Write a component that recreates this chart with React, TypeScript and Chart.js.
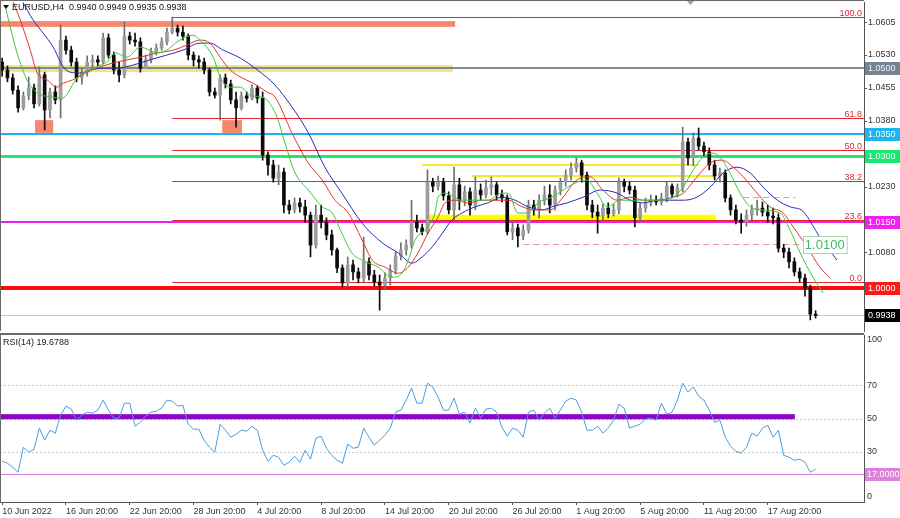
import React, { useEffect, useRef } from 'react';
import { Chart, registerables } from 'chart.js';

Chart.register(...registerables);

const FONT = '"Liberation Sans", Arial, sans-serif';

// ---------------- data ----------------
const symbolHeader = 'EURUSD,H4  0.9940 0.9949 0.9935 0.9938';
const rsiHeader = 'RSI(14) 19.6788';

const xTickIndex = [0, 12, 24, 36, 48, 60, 72, 84, 96, 108, 120, 132, 144];
const xTickLabels = ['10 Jun 2022', '16 Jun 20:00', '22 Jun 20:00', '28 Jun 20:00', '4 Jul 20:00', '8 Jul 20:00', '14 Jul 20:00', '20 Jul 20:00', '26 Jul 20:00', '1 Aug 20:00', '5 Aug 20:00', '11 Aug 20:00', '17 Aug 20:00'];
const priceTickValues = [0.9930, 1.0005, 1.0080, 1.0155, 1.0230, 1.0305, 1.0380, 1.0455, 1.0530, 1.0605];
const rsiTickValues = [100, 70, 50, 30, 0];

const opens = [
  1.0514, 1.0496, 1.0478, 1.0450, 1.0410, 1.0437, 1.0455, 1.0419, 1.0485, 1.0405,
  1.0446, 1.0428, 1.0564, 1.0541, 1.0514, 1.0478, 1.0491, 1.0514, 1.0519, 1.0514,
  1.0569, 1.0530, 1.0496, 1.0485, 1.0573, 1.0564, 1.0560, 1.0500, 1.0519, 1.0537,
  1.0546, 1.0560, 1.0582, 1.0591, 1.0582, 1.0573, 1.0530, 1.0519, 1.0514, 1.0496,
  1.0446, 1.0439, 1.0478, 1.0464, 1.0428, 1.0410, 1.0437, 1.0432, 1.0455, 1.0432,
  1.0303, 1.0280, 1.0250, 1.0264, 1.0189, 1.0178, 1.0194, 1.0185, 1.0166, 1.0098,
  1.0166, 1.0150, 1.0121, 1.0087, 1.0046, 1.0012, 1.0053, 1.0037, 1.0023, 1.0060,
  1.0030, 1.0014, 1.0007, 1.0023, 1.0041, 1.0073, 1.0087, 1.0098, 1.0150, 1.0137,
  1.0128, 1.0241, 1.0232, 1.0241, 1.0210, 1.0178, 1.0235, 1.0200, 1.0219, 1.0189,
  1.0223, 1.0212, 1.0228, 1.0235, 1.0212, 1.0205, 1.0128, 1.0137, 1.0119, 1.0132,
  1.0189, 1.0178, 1.0200, 1.0212, 1.0189, 1.0223, 1.0241, 1.0257, 1.0273, 1.0285,
  1.0257, 1.0189, 1.0173, 1.0164, 1.0182, 1.0169, 1.0178, 1.0241, 1.0232, 1.0223,
  1.0160, 1.0182, 1.0194, 1.0200, 1.0196, 1.0205, 1.0232, 1.0214, 1.0228, 1.0332,
  1.0296, 1.0341, 1.0323, 1.0310, 1.0280, 1.0255, 1.0262, 1.0205, 1.0178, 1.0155,
  1.0150, 1.0166, 1.0178, 1.0182, 1.0173, 1.0164, 1.0160, 1.0091, 1.0082, 1.0060,
  1.0037, 1.0023, 1.0000, 0.9941,
];
const highs = [
  1.0523, 1.0505, 1.0487, 1.0460, 1.0446, 1.0480, 1.0464, 1.0503, 1.0491, 1.0455,
  1.0460, 1.0598, 1.0573, 1.0550, 1.0523, 1.0500, 1.0528, 1.0530, 1.0528, 1.0580,
  1.0578, 1.0537, 1.0514, 1.0605, 1.0582, 1.0580, 1.0569, 1.0530, 1.0546, 1.0555,
  1.0569, 1.0591, 1.0616, 1.0598, 1.0596, 1.0578, 1.0537, 1.0528, 1.0523, 1.0500,
  1.0455, 1.0485, 1.0487, 1.0473, 1.0446, 1.0446, 1.0446, 1.0462, 1.0460, 1.0446,
  1.0310, 1.0291, 1.0280, 1.0273, 1.0200, 1.0205, 1.0205, 1.0200, 1.0173, 1.0189,
  1.0189, 1.0160, 1.0132, 1.0091, 1.0053, 1.0071, 1.0064, 1.0046, 1.0116, 1.0069,
  1.0041, 1.0030, 1.0035, 1.0053, 1.0082, 1.0103, 1.0110, 1.0200, 1.0166, 1.0146,
  1.0269, 1.0250, 1.0255, 1.0250, 1.0219, 1.0275, 1.0250, 1.0232, 1.0228, 1.0253,
  1.0237, 1.0246, 1.0253, 1.0241, 1.0223, 1.0212, 1.0150, 1.0146, 1.0144, 1.0200,
  1.0200, 1.0212, 1.0232, 1.0235, 1.0232, 1.0250, 1.0269, 1.0285, 1.0296, 1.0291,
  1.0264, 1.0200, 1.0189, 1.0191, 1.0194, 1.0191, 1.0250, 1.0248, 1.0241, 1.0232,
  1.0194, 1.0205, 1.0212, 1.0210, 1.0216, 1.0241, 1.0237, 1.0237, 1.0366, 1.0341,
  1.0353, 1.0364, 1.0332, 1.0319, 1.0291, 1.0273, 1.0269, 1.0212, 1.0189, 1.0169,
  1.0178, 1.0189, 1.0200, 1.0196, 1.0189, 1.0182, 1.0169, 1.0100, 1.0091, 1.0069,
  1.0046, 1.0032, 1.0007, 0.9949,
];
const lows = [
  1.0482, 1.0469, 1.0441, 1.0400, 1.0405, 1.0428, 1.0410, 1.0414, 1.0360, 1.0387,
  1.0419, 1.0387, 1.0532, 1.0505, 1.0469, 1.0464, 1.0482, 1.0500, 1.0505, 1.0510,
  1.0523, 1.0487, 1.0469, 1.0478, 1.0555, 1.0550, 1.0491, 1.0500, 1.0512, 1.0530,
  1.0541, 1.0553, 1.0578, 1.0573, 1.0564, 1.0519, 1.0505, 1.0500, 1.0487, 1.0437,
  1.0432, 1.0382, 1.0455, 1.0419, 1.0366, 1.0405, 1.0423, 1.0428, 1.0421, 1.0291,
  1.0257, 1.0241, 1.0235, 1.0171, 1.0169, 1.0171, 1.0173, 1.0150, 1.0071, 1.0091,
  1.0137, 1.0110, 1.0075, 1.0035, 1.0003, 1.0003, 1.0019, 1.0012, 1.0014, 1.0019,
  1.0005, 0.9950, 0.9996, 1.0007, 1.0032, 1.0064, 1.0075, 1.0091, 1.0128, 1.0121,
  1.0123, 1.0219, 1.0223, 1.0200, 1.0169, 1.0155, 1.0178, 1.0187, 1.0166, 1.0178,
  1.0200, 1.0205, 1.0212, 1.0200, 1.0196, 1.0121, 1.0110, 1.0094, 1.0110, 1.0125,
  1.0166, 1.0160, 1.0189, 1.0171, 1.0178, 1.0212, 1.0232, 1.0246, 1.0264, 1.0241,
  1.0178, 1.0160, 1.0125, 1.0155, 1.0160, 1.0164, 1.0169, 1.0219, 1.0214, 1.0139,
  1.0150, 1.0173, 1.0187, 1.0189, 1.0189, 1.0196, 1.0205, 1.0207, 1.0219, 1.0280,
  1.0278, 1.0314, 1.0300, 1.0269, 1.0246, 1.0241, 1.0196, 1.0166, 1.0146, 1.0125,
  1.0141, 1.0155, 1.0166, 1.0164, 1.0150, 1.0146, 1.0082, 1.0069, 1.0046, 1.0028,
  1.0014, 0.9982, 0.9928, 0.9932,
];
const closes = [
  1.0496, 1.0478, 1.0450, 1.0410, 1.0437, 1.0455, 1.0419, 1.0485, 1.0405, 1.0446,
  1.0428, 1.0564, 1.0541, 1.0514, 1.0478, 1.0491, 1.0514, 1.0519, 1.0514, 1.0569,
  1.0530, 1.0496, 1.0485, 1.0573, 1.0564, 1.0560, 1.0500, 1.0519, 1.0537, 1.0546,
  1.0560, 1.0582, 1.0591, 1.0582, 1.0573, 1.0530, 1.0519, 1.0514, 1.0496, 1.0446,
  1.0439, 1.0478, 1.0464, 1.0428, 1.0410, 1.0437, 1.0432, 1.0455, 1.0432, 1.0303,
  1.0280, 1.0250, 1.0264, 1.0189, 1.0178, 1.0194, 1.0185, 1.0166, 1.0098, 1.0166,
  1.0150, 1.0121, 1.0087, 1.0046, 1.0012, 1.0053, 1.0037, 1.0023, 1.0060, 1.0030,
  1.0014, 1.0007, 1.0023, 1.0041, 1.0073, 1.0087, 1.0098, 1.0150, 1.0137, 1.0128,
  1.0241, 1.0232, 1.0241, 1.0210, 1.0178, 1.0235, 1.0200, 1.0219, 1.0189, 1.0223,
  1.0212, 1.0228, 1.0235, 1.0212, 1.0205, 1.0128, 1.0137, 1.0119, 1.0132, 1.0189,
  1.0178, 1.0200, 1.0212, 1.0189, 1.0223, 1.0241, 1.0257, 1.0273, 1.0285, 1.0257,
  1.0189, 1.0173, 1.0164, 1.0182, 1.0169, 1.0178, 1.0241, 1.0232, 1.0223, 1.0160,
  1.0182, 1.0194, 1.0200, 1.0196, 1.0205, 1.0232, 1.0214, 1.0228, 1.0332, 1.0296,
  1.0341, 1.0323, 1.0310, 1.0280, 1.0255, 1.0262, 1.0205, 1.0178, 1.0155, 1.0150,
  1.0166, 1.0178, 1.0182, 1.0173, 1.0164, 1.0160, 1.0091, 1.0082, 1.0060, 1.0037,
  1.0023, 1.0000, 0.9941, 0.9938,
];

// Alligator lines (bar index, price)
const lipsIdx = [0.6, 2.8, 4.7, 6.6, 9.0, 11.3, 12.4, 13.4, 14.7, 16.6, 18.4, 19.7, 21.3, 23.5, 26, 29.2, 31, 32.9, 35.9, 37.2, 39.7, 41, 42.9, 44.8, 46.6, 48.5, 49.8, 51.7, 53.2, 55.1, 57.6, 60.2, 62.1, 63.9, 65.8, 67.7, 70.7, 73.3, 75.2, 76.4, 77.7, 80.1, 81.4, 82, 83.3, 86.5, 89, 91.4, 94, 95.2, 97, 98.9, 100.8, 103.4, 105.5, 108.1, 110, 111.9, 113.8, 116.2, 120, 123.8, 126.2, 128.1, 130, 131.8, 133.7, 135, 136.9, 138.8, 140.7, 142.6, 146.3, 148.2, 150.1, 152.5, 154.4];
const lipsVal = [1.0639, 1.0535, 1.0473, 1.0444, 1.0435, 1.0432, 1.0444, 1.0466, 1.0485, 1.0496, 1.0507, 1.0514, 1.0535, 1.0525, 1.0548, 1.0535, 1.0541, 1.0560, 1.0575, 1.0564, 1.0525, 1.0480, 1.0457, 1.0457, 1.0439, 1.0435, 1.0428, 1.0389, 1.0330, 1.0262, 1.0223, 1.0185, 1.0171, 1.0125, 1.0080, 1.0064, 1.0048, 1.0025, 1.0034, 1.0064, 1.0110, 1.0139, 1.0171, 1.0207, 1.0216, 1.0200, 1.0200, 1.0200, 1.0216, 1.0216, 1.0171, 1.0171, 1.0194, 1.0207, 1.0223, 1.0241, 1.0246, 1.0216, 1.0185, 1.0200, 1.0200, 1.0200, 1.0207, 1.0230, 1.0269, 1.0298, 1.0307, 1.0298, 1.0262, 1.0216, 1.0185, 1.0178, 1.0171, 1.0132, 1.0080, 1.0025, 0.9989];
const teethIdx = [2.1, 3.4, 5.3, 6.6, 8.5, 10.3, 11.5, 13.2, 16, 18.4, 20.9, 23.5, 26, 29.2, 32.2, 34.8, 37.2, 39.1, 41, 42.9, 44.8, 47.2, 49.8, 51.3, 54.5, 57.6, 60.2, 62.6, 65.1, 67.7, 69.6, 72, 74.5, 76.4, 78.2, 80.1, 82, 83.3, 85.2, 87.6, 90.3, 92.7, 95.2, 97.8, 100.2, 103.1, 105.5, 108.1, 110.6, 113, 115.7, 118.1, 120.6, 123.2, 125.6, 128.1, 130.7, 133.2, 135.4, 137.5, 139.4, 142, 144.4, 146.9, 148.8, 151.4, 153.8, 155.7];
const teethVal = [1.0650, 1.0610, 1.0541, 1.0489, 1.0473, 1.0457, 1.0466, 1.0473, 1.0491, 1.0503, 1.0512, 1.0519, 1.0525, 1.0535, 1.0541, 1.0553, 1.0564, 1.0557, 1.0525, 1.0496, 1.0480, 1.0466, 1.0446, 1.0435, 1.0353, 1.0284, 1.0246, 1.0200, 1.0171, 1.0110, 1.0064, 1.0048, 1.0034, 1.0048, 1.0080, 1.0125, 1.0162, 1.0194, 1.0200, 1.0194, 1.0200, 1.0200, 1.0200, 1.0185, 1.0178, 1.0178, 1.0207, 1.0246, 1.0253, 1.0223, 1.0200, 1.0207, 1.0200, 1.0200, 1.0205, 1.0216, 1.0253, 1.0285, 1.0291, 1.0275, 1.0253, 1.0216, 1.0185, 1.0171, 1.0139, 1.0094, 1.0048, 1.0023];
const jawIdx = [3.9, 5.8, 7.7, 9.6, 11.5, 12.8, 14.7, 16.6, 19, 21.6, 24.6, 27.8, 31, 34, 37.2, 39.1, 41.6, 44.8, 48, 51.3, 54.5, 57.6, 60.7, 63.9, 67.7, 71.5, 74.5, 77.1, 79, 80.9, 82.8, 84.6, 86.5, 89, 91.4, 94, 96.5, 98.9, 101.6, 103.4, 106.3, 109.3, 112.5, 115.7, 118.1, 120.6, 123.2, 125.6, 128.1, 130.7, 133.2, 135.6, 138.2, 140.7, 143.1, 145.8, 148.2, 150.6, 153.8, 157];
const jawVal = [1.0650, 1.0610, 1.0580, 1.0548, 1.0503, 1.0491, 1.0489, 1.0496, 1.0500, 1.0500, 1.0507, 1.0519, 1.0530, 1.0541, 1.0557, 1.0557, 1.0541, 1.0523, 1.0496, 1.0462, 1.0412, 1.0353, 1.0275, 1.0216, 1.0148, 1.0103, 1.0080, 1.0057, 1.0071, 1.0094, 1.0125, 1.0155, 1.0171, 1.0185, 1.0194, 1.0207, 1.0200, 1.0185, 1.0178, 1.0185, 1.0194, 1.0207, 1.0223, 1.0216, 1.0200, 1.0194, 1.0200, 1.0200, 1.0200, 1.0207, 1.0230, 1.0262, 1.0275, 1.0262, 1.0230, 1.0200, 1.0185, 1.0175, 1.0116, 1.0064];

const rsiValues = [
  24.4, 23.2, 20.8, 17.8, 32.8, 29.8, 31.6, 44.2, 37.0, 43.0,
  41.2, 52.0, 57.4, 55.6, 49.0, 52.0, 53.8, 53.2, 55.0, 61.0,
  55.0, 50.2, 50.2, 59.2, 59.2, 45.4, 47.8, 51.4, 53.8, 54.4,
  56.2, 61.0, 60.4, 57.4, 58.0, 46.6, 43.6, 43.6, 37.0, 32.8,
  29.8, 46.6, 43.0, 38.8, 40.6, 43.0, 42.4, 45.4, 43.0, 31.0,
  24.4, 28.0, 26.8, 22.0, 23.8, 27.4, 23.8, 31.0, 25.6, 38.2,
  39.4, 32.2, 28.0, 25.0, 23.2, 34.6, 32.2, 32.8, 44.2, 38.8,
  34.0, 37.0, 40.0, 44.2, 53.8, 55.0, 61.0, 68.2, 59.2, 59.2,
  71.2, 68.8, 62.8, 55.0, 55.0, 62.2, 52.6, 53.8, 47.2, 56.2,
  50.2, 55.6, 56.2, 53.8, 44.8, 39.4, 44.2, 43.0, 38.8, 53.8,
  55.0, 49.0, 53.2, 56.2, 50.2, 55.0, 60.4, 62.2, 61.0, 53.8,
  43.0, 43.0, 45.4, 41.2, 44.2, 49.0, 58.6, 56.2, 44.2, 45.4,
  46.6, 49.6, 50.2, 49.0, 59.2, 52.6, 53.8, 61.0, 71.2, 65.8,
  68.8, 63.4, 61.0, 55.0, 47.8, 49.0, 38.8, 33.4, 30.4, 29.2,
  32.8, 41.2, 39.4, 44.2, 46.0, 38.8, 43.0, 28.0, 26.8, 25.0,
  25.6, 23.8, 17.8, 19.7,
];

// chart objects (prices / bar index)
const fibHigh = 1.0616;
const fibLow = 1.0014;
const fibStartIndex = 32;
const fibRatios = [100.0, 61.8, 50.0, 38.2, 23.6, 0.0];
const levelPrices = [1.0500, 1.0350, 1.0300, 1.0150, 1.0000];
const bidPrice = 0.9938;
const tagPrices = [1.0500, 1.0350, 1.0300, 1.0150, 1.0000, 0.9938];
const zones = [
  { from: null, to: 85.2, low: 1.0594, high: 1.0607, kind: 'salmon' },
  { from: null, to: 84.8, low: 1.0491, high: 1.0507, kind: 'khaki' },
  { from: 6.2, to: 9.6, low: 1.0353, high: 1.0382, kind: 'salmon' },
  { from: 41.4, to: 45.1, low: 1.0353, high: 1.0382, kind: 'salmon' },
  { from: 79.6, to: 134.3, low: 1.0155, high: 1.0167, kind: 'yellow' },
];
const segments = [
  { from: 79, to: 131, price: 1.0280, kind: 'yellow' },
  { from: 88.4, to: 134, price: 1.0256, kind: 'yellow' },
  { from: 98, to: 150.6, price: 1.0100, kind: 'dash' },
  { from: 139.4, to: 149.2, price: 1.0207, kind: 'dash' },
];
const noteText = '1.0100';
const notePrice = 1.0100;
const noteIndex = 150.6;
const rsiBand = { to: 149.1, low: 49.4, high: 52.6 };
const rsiLevels = [70, 50, 30];
const rsiAlert = 17;

// ---------------- styles ----------------
const X_MIN = -0.4;
const X_MAX = 162.1;
const PRICE_MIN = 0.99027;
const PRICE_MAX = 1.06505;
const ZONE_COLOR: Record<string, string> = { salmon: '#f6866f', khaki: '#f1e38a', yellow: '#ffff00' };
const LEVEL_STYLE = [
  { color: '#7d8b99', width: 2 },
  { color: '#1cb3ef', width: 2 },
  { color: '#22e86c', width: 3 },
  { color: '#ea1eea', width: 2 },
  { color: '#ff0a0a', width: 4 },
];
const TAG_FILL = ['#738595', '#1cb5ee', '#19e870', '#f21ff2', '#ff1a1a', '#000000'];
const FIB_COLOR = '#e0262e';

function hline(ctx: any, x0: number, x1: number, y: number, color: string, w: number, dash: number[] = []) {
  ctx.beginPath();
  ctx.setLineDash(dash);
  ctx.strokeStyle = color;
  ctx.lineWidth = w;
  const yy = w % 2 === 1 ? Math.round(y) + 0.5 : Math.round(y);
  ctx.moveTo(x0, yy);
  ctx.lineTo(x1, yy);
  ctx.stroke();
  ctx.setLineDash([]);
}

const pricePlugin = {
  id: 'priceObjects',
  beforeDatasetsDraw(chart: any) {
    const { ctx, chartArea: a } = chart;
    const X = (i: number) => chart.scales.x.getPixelForValue(i);
    const Y = (p: number) => chart.scales.y.getPixelForValue(p);
    ctx.save();
    ctx.beginPath();
    ctx.rect(a.left, a.top, a.right - a.left, a.bottom - a.top);
    ctx.clip();
    zones.forEach((z) => {
      const x0 = z.from == null ? a.left : X(z.from);
      const x1 = z.to == null ? a.right : X(z.to);
      const y0 = Y(z.high);
      const y1 = Y(z.low);
      ctx.fillStyle = ZONE_COLOR[z.kind];
      ctx.fillRect(x0, y0, x1 - x0, y1 - y0);
    });
    segments.forEach((s) => {
      if (s.kind === 'yellow') hline(ctx, X(s.from), X(s.to), Y(s.price), '#f7ea2e', 2);
      else hline(ctx, X(s.from), X(s.to), Y(s.price), '#e59a9a', 1, [6, 4]);
    });
    const fx0 = X(fibStartIndex);
    fibRatios.forEach((r) => hline(ctx, fx0, a.right, Y(fibLow + ((fibHigh - fibLow) * r) / 100), FIB_COLOR, 1));
    levelPrices.forEach((p, k) => hline(ctx, a.left, a.right, Y(p), LEVEL_STYLE[k].color, LEVEL_STYLE[k].width));
    hline(ctx, a.left, a.right, Y(bidPrice), '#c4c4c4', 1);
    ctx.restore();
  },
  afterDraw(chart: any) {
    const { ctx, chartArea: a } = chart;
    const X = (i: number) => chart.scales.x.getPixelForValue(i);
    const Y = (p: number) => chart.scales.y.getPixelForValue(p);
    ctx.save();
    // price axis labels
    ctx.font = `9px ${FONT}`;
    ctx.textAlign = 'left';
    ctx.textBaseline = 'middle';
    ctx.fillStyle = '#333';
    priceTickValues.forEach((v) => ctx.fillText(v.toFixed(4), a.right + 4, Y(v)));
    // fib labels
    ctx.fillStyle = FIB_COLOR;
    ctx.textAlign = 'right';
    ctx.textBaseline = 'alphabetic';
    fibRatios.forEach((r) => {
      const y = Y(fibLow + ((fibHigh - fibLow) * r) / 100);
      ctx.fillText(r.toFixed(1), a.right - 2, Math.round(y) - 1);
    });
    // note label
    ctx.font = `13px ${FONT}`;
    const nx = X(noteIndex);
    const ny = Y(notePrice);
    const tw = ctx.measureText(noteText).width;
    ctx.fillStyle = '#ffffff';
    ctx.fillRect(nx, ny - 8, tw + 4, 17);
    ctx.strokeStyle = '#a6d9b0';
    ctx.lineWidth = 1;
    ctx.strokeRect(Math.round(nx) + 0.5, Math.round(ny - 8) + 0.5, tw + 4, 17);
    ctx.fillStyle = '#47b667';
    ctx.textAlign = 'left';
    ctx.textBaseline = 'middle';
    ctx.fillText(noteText, nx + 2, ny + 1);
    // axis tags
    ctx.font = `9px ${FONT}`;
    tagPrices.forEach((p, k) => {
      const y = Math.round(Y(p));
      ctx.fillStyle = TAG_FILL[k];
      ctx.fillRect(a.right + 1, y - 6, 36, 13);
      ctx.fillStyle = k === 0 ? '#eef2f5' : '#ffffff';
      ctx.fillText(p.toFixed(4), a.right + 4, y + 0.5);
    });
    // header
    ctx.fillStyle = '#111';
    ctx.fillText(symbolHeader, 12, 8);
    ctx.beginPath();
    ctx.moveTo(3, 5);
    ctx.lineTo(9, 5);
    ctx.lineTo(6, 9);
    ctx.closePath();
    ctx.fill();
    // chart shift marker
    ctx.fillStyle = '#a0a0a0';
    ctx.beginPath();
    ctx.moveTo(687, 1);
    ctx.lineTo(694, 1);
    ctx.lineTo(690.5, 5);
    ctx.closePath();
    ctx.fill();
    // frame
    ctx.strokeStyle = '#6a6a6a';
    ctx.lineWidth = 1;
    ctx.beginPath();
    ctx.moveTo(0, 0.5);
    ctx.lineTo(a.right, 0.5);
    ctx.moveTo(0.5, 0);
    ctx.lineTo(0.5, a.bottom);
    ctx.stroke();
    ctx.restore();
  },
};

const rsiPlugin = {
  id: 'rsiObjects',
  beforeDatasetsDraw(chart: any) {
    const { ctx, chartArea: a } = chart;
    const X = (i: number) => chart.scales.x.getPixelForValue(i);
    const Y = (v: number) => chart.scales.y.getPixelForValue(v);
    ctx.save();
    ctx.beginPath();
    ctx.rect(a.left, a.top, a.right - a.left, a.bottom - a.top);
    ctx.clip();
    ctx.fillStyle = '#8a06c8';
    ctx.fillRect(a.left, Y(rsiBand.high), X(rsiBand.to) - a.left, Y(rsiBand.low) - Y(rsiBand.high));
    rsiLevels.forEach((v) => hline(ctx, a.left, a.right, Y(v), '#c9c9c9', 1, [2, 2]));
    hline(ctx, a.left, a.right, Y(rsiAlert), '#d67fd6', 1);
    ctx.restore();
  },
  afterDraw(chart: any) {
    const { ctx, chartArea: a } = chart;
    const Y = (v: number) => chart.scales.y.getPixelForValue(v);
    ctx.save();
    ctx.font = `9px ${FONT}`;
    ctx.textAlign = 'left';
    ctx.textBaseline = 'middle';
    ctx.fillStyle = '#222';
    ctx.fillText(rsiHeader, 3, 10);
    ctx.fillStyle = '#333';
    rsiTickValues.forEach((v) => {
      let y = Y(v);
      if (v === 100) y += 5;
      if (v === 0) y -= 5;
      ctx.fillText(String(v), a.right + 3, y);
    });
    const ty = Math.round(Y(rsiAlert));
    ctx.fillStyle = '#dc82dc';
    ctx.fillRect(a.right + 1, ty - 6, 36, 13);
    ctx.fillStyle = '#ffffff';
    ctx.fillText(rsiAlert.toFixed(4), a.right + 3, ty + 0.5);
    // separator + left frame
    ctx.fillStyle = '#6a6a6a';
    ctx.fillRect(0, 0, a.right, 2);
    ctx.fillRect(0, 0, 1, a.bottom);
    ctx.restore();
  },
};

function makePriceChart(canvas: HTMLCanvasElement) {
  const bull = opens.map((o, i) => closes[i] >= o);
  const bodyColor = bull.map((b) => (b ? '#9d9d9d' : '#0c0c0c'));
  const wickColor = bull.map((b) => (b ? '#6e6e6e' : '#0c0c0c'));
  const maLine = (idx: number[], val: number[], color: string) => ({
    type: 'line',
    data: idx.map((x, i) => ({ x, y: val[i] })),
    borderColor: color,
    borderWidth: 1,
    pointRadius: 0,
    cubicInterpolationMode: 'monotone',
    order: 0,
  });
  return new Chart(canvas, {
    type: 'bar',
    data: {
      datasets: [
        maLine(lipsIdx, lipsVal, '#3cc93c'),
        maLine(teethIdx, teethVal, '#e0362e'),
        maLine(jawIdx, jawVal, '#2b2bb5'),
        {
          type: 'bar',
          data: opens.map((o, i) => ({ x: i, y: [o, closes[i]] })),
          backgroundColor: bodyColor,
          borderWidth: 0,
          barThickness: 3,
          grouped: false,
          minBarLength: 1,
          order: 1,
        },
        {
          type: 'bar',
          data: highs.map((h, i) => ({ x: i, y: [lows[i], h] })),
          backgroundColor: wickColor,
          borderWidth: 0,
          barThickness: 1,
          grouped: false,
          order: 2,
        },
      ] as any,
    },
    options: {
      animation: false,
      responsive: false,
      maintainAspectRatio: false,
      layout: { padding: { top: 2, bottom: 2, left: 0, right: 0 } },
      plugins: { legend: { display: false }, tooltip: { enabled: false } },
      scales: {
        x: { type: 'linear', min: X_MIN, max: X_MAX, display: false, offset: false, grid: { offset: false } },
        y: {
          position: 'right',
          min: PRICE_MIN,
          max: PRICE_MAX,
          afterBuildTicks: (s: any) => {
            s.ticks = priceTickValues.map((v) => ({ value: v }));
          },
          afterFit: (s: any) => {
            s.width = 36;
          },
          ticks: { display: false },
          grid: { drawOnChartArea: false, tickLength: 3, color: '#555' },
          border: { color: '#555' },
        },
      },
    } as any,
    plugins: [pricePlugin],
  });
}

function makeRsiChart(canvas: HTMLCanvasElement) {
  return new Chart(canvas, {
    type: 'line',
    data: {
      datasets: [
        {
          data: rsiValues.map((v, i) => ({ x: i, y: v })),
          borderColor: '#4a9edb',
          borderWidth: 1,
          pointRadius: 0,
          tension: 0,
        },
      ],
    },
    options: {
      animation: false,
      responsive: false,
      maintainAspectRatio: false,
      layout: { padding: { top: 2, bottom: 0, left: 0, right: 0 } },
      plugins: { legend: { display: false }, tooltip: { enabled: false } },
      scales: {
        x: {
          type: 'linear',
          min: X_MIN,
          max: X_MAX,
          offset: false,
          afterBuildTicks: (s: any) => {
            s.ticks = xTickIndex.map((v) => ({ value: v }));
          },
          afterFit: (s: any) => {
            s.height = 16;
          },
          ticks: {
            autoSkip: false,
            maxRotation: 0,
            minRotation: 0,
            align: 'start',
            padding: 1,
            color: '#333',
            font: { family: FONT, size: 9 },
            callback: (v: any) => {
              const k = xTickIndex.indexOf(Number(v));
              return k >= 0 ? xTickLabels[k] : '';
            },
          },
          grid: { drawOnChartArea: false, tickLength: 3, color: '#555' },
          border: { color: '#555' },
        },
        y: {
          position: 'right',
          min: 0,
          max: 100,
          afterFit: (s: any) => {
            s.width = 36;
          },
          ticks: { display: false },
          grid: { drawOnChartArea: false, drawTicks: false },
          border: { color: '#555' },
        },
      },
    } as any,
    plugins: [rsiPlugin],
  });
}

export default function App() {
  const priceRef = useRef<HTMLCanvasElement>(null);
  const rsiRef = useRef<HTMLCanvasElement>(null);
  useEffect(() => {
    const c1 = makePriceChart(priceRef.current as HTMLCanvasElement);
    const c2 = makeRsiChart(rsiRef.current as HTMLCanvasElement);
    return () => {
      c1.destroy();
      c2.destroy();
    };
  }, []);
  return (
    <div style={{ position: 'fixed', left: 0, top: 0, width: 900, height: 518, background: '#ffffff', overflow: 'hidden' }}>
      <canvas ref={priceRef} width={900} height={333} style={{ display: 'block', width: 900, height: 333 }} />
      <canvas ref={rsiRef} width={900} height={185} style={{ display: 'block', width: 900, height: 185 }} />
    </div>
  );
}
